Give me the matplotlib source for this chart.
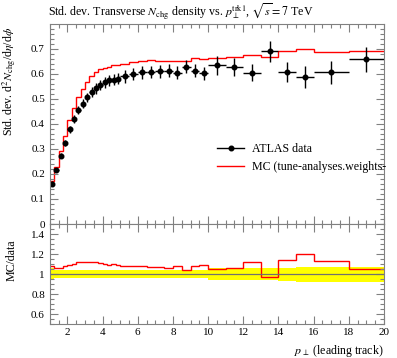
import numpy as np
import matplotlib
matplotlib.use("Agg")
import matplotlib.pyplot as plt
from matplotlib.ticker import MultipleLocator, FuncFormatter
from matplotlib.lines import Line2D

# ---------------- data ----------------
bin_edges = [1.0, 1.25, 1.5, 1.75, 2.0, 2.25, 2.5, 2.75, 3.0, 3.25, 3.5, 3.75,
             4.0, 4.25, 4.5, 4.75, 5.0, 5.5, 6.0, 6.5, 7.0, 7.5, 8.0, 8.5, 9.0,
             9.5, 10.0, 11.0, 12.0, 13.0, 14.0, 15.0, 16.0, 18.0, 20.0]
data_values = [0.160, 0.216, 0.272, 0.325, 0.378, 0.418, 0.455, 0.481, 0.506,
               0.527, 0.542, 0.556, 0.566, 0.574, 0.577, 0.581,
               0.590, 0.600, 0.606, 0.608, 0.610, 0.613, 0.605, 0.628, 0.613,
               0.602, 0.634, 0.626, 0.605, 0.690, 0.606, 0.586, 0.606, 0.658]
data_errors = [0.010, 0.008, 0.010, 0.012, 0.014, 0.016, 0.017, 0.018, 0.019,
               0.020, 0.021, 0.021, 0.022, 0.022, 0.022, 0.022,
               0.025, 0.025, 0.025, 0.025, 0.026, 0.026, 0.026, 0.026, 0.026,
               0.026, 0.037, 0.036, 0.035, 0.043, 0.040, 0.044, 0.045, 0.050]
mc_values = [0.173, 0.229, 0.290, 0.352, 0.414, 0.462, 0.508, 0.538, 0.568,
             0.591, 0.606, 0.618, 0.624, 0.629, 0.634, 0.634,
             0.640, 0.649, 0.653, 0.654, 0.651, 0.653, 0.652, 0.651, 0.665,
             0.659, 0.664, 0.666, 0.677, 0.669, 0.692, 0.701, 0.686, 0.690]

title = r"Std. dev. Transverse $N_\mathrm{chg}$ density vs. $p_\perp^\mathrm{trk1}$, $\sqrt{s} = 7$ TeV"
ylabel_main = r"Std. dev. d$^2N_\mathrm{chg}$/d$\eta$/d$\phi$"
ylabel_ratio = "MC/data"
xlabel = r"$p_\perp$ (leading track)"
label_data = "ATLAS data"
label_mc = "MC (tune-analyses.weights-"

# ---------------- style ----------------
plt.rcParams['font.family'] = ['Liberation Serif', 'DejaVu Serif']
plt.rcParams['mathtext.fontset'] = 'stix'
FS = 8.6
TFS = 8.0
frame_col = '#808080'

edges = np.array(bin_edges)
vals = np.array(data_values)
errs = np.array(data_errors)
mc = np.array(mc_values)
centers = 0.5 * (edges[:-1] + edges[1:])
halfw = 0.5 * (edges[1:] - edges[:-1])

W, H = 397, 358
fig = plt.figure(figsize=(W / 100, H / 100), dpi=100)

def fx(px):
    return px / W

def fy(py):
    return 1 - py / H

L, R = 49.8, 384.0
ax = fig.add_axes([fx(L), fy(224), fx(R - L), (224 - 24) / H])
axr = fig.add_axes([fx(L), fy(324.3), fx(R - L), (324.3 - 224) / H])

for a in (ax, axr):
    for s in a.spines.values():
        s.set_color(frame_col)
        s.set_linewidth(0.8)
    a.tick_params(which='both', direction='in', top=True, right=True,
                  color=frame_col, labelsize=TFS, width=0.8)
    a.tick_params(which='major', length=6)
    a.tick_params(which='minor', length=3)
    a.set_xlim(1, 20)
    a.xaxis.set_major_locator(MultipleLocator(2))
    a.xaxis.set_minor_locator(MultipleLocator(0.5))

# main panel
ax.stairs(mc, edges, baseline=None, color='red', lw=1.0, label=label_mc)
ax.errorbar(centers, vals, yerr=errs, xerr=halfw, fmt='o', color='black',
            ms=3.3, elinewidth=1.0, capsize=0, label=label_data)
ax.set_ylim(0, 0.799)
ax.yaxis.set_major_locator(MultipleLocator(0.1))
ax.yaxis.set_minor_locator(MultipleLocator(0.02))
ax.yaxis.set_major_formatter(FuncFormatter(lambda v, p: "0" if abs(v) < 1e-9 else "%.1f" % v))
ax.tick_params(labelbottom=False)

# ratio panel
rel = errs / vals
axr.stairs(1 + rel, edges, baseline=1 - rel, fill=True, color='#ffff00', lw=0)
axr.axhline(1.0, color='#707070', lw=0.9)
axr.stairs(mc / vals, edges, baseline=None, color='red', lw=1.0)
axr.set_ylim(0.5, 1.5)
axr.yaxis.set_major_locator(MultipleLocator(0.2))
axr.yaxis.set_minor_locator(MultipleLocator(0.05))
axr.set_yticks([0.6, 0.8, 1.0, 1.2, 1.4])
axr.yaxis.set_major_formatter(FuncFormatter(lambda v, p: "%g" % round(v, 2)))
axr.xaxis.set_major_formatter(FuncFormatter(lambda v, p: "%d" % round(v)))
axr.tick_params(axis='x', pad=3)

# legend
handles = [Line2D([], [], color='black', marker='o', ms=3.3, lw=1.0),
           Line2D([], [], color='red', lw=1.0)]
fig.legend(handles, [label_data, label_mc], loc='upper left',
           bbox_to_anchor=(fx(217), fy(143.5)), frameon=False, fontsize=FS,
           borderpad=0, borderaxespad=0, handlelength=2.3, handletextpad=0.6,
           labelspacing=0.45)

# texts
fig.text(fx(48), fy(11), title, fontsize=FS, ha='left', va='center')
fig.text(fx(9.5), fy(27), ylabel_main, fontsize=FS, rotation=90, ha='center', va='top')
fig.text(fx(12), fy(239), ylabel_ratio, fontsize=FS, rotation=90, ha='center', va='top')
fig.text(fx(384), fy(351), xlabel, fontsize=FS, ha='right', va='center')

fig.savefig("out.png", dpi=100)
